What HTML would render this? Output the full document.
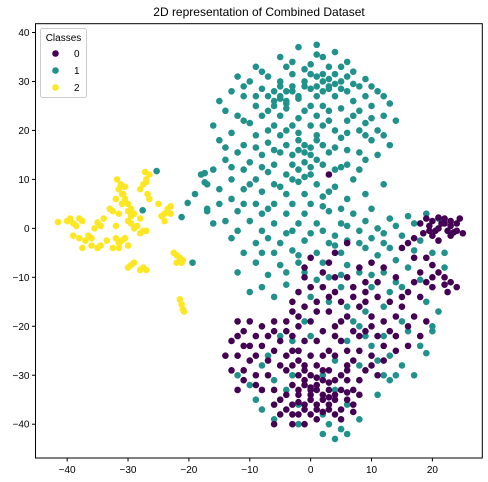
<!DOCTYPE html>
<html><head><meta charset="utf-8"><style>
html,body{margin:0;padding:0;background:#fff;}
svg{display:block;font-family:"Liberation Sans","DejaVu Sans",sans-serif;}
</style></head><body>
<svg id="chart" width="488" height="482">
<text x="259" y="16" text-anchor="middle" font-size="12" fill="#000">2D representation of Combined Dataset</text>
<g id="ticks"></g>
<g id="points"></g>
<rect x="35.5" y="23.7" width="446.8" height="434.3" fill="none" stroke="#000" stroke-width="1"/>
<g>
<rect x="40.5" y="28.5" width="46" height="69" rx="2" fill="#fff" fill-opacity="0.8" stroke="#ccc"/>
<text x="63.5" y="41" text-anchor="middle" font-size="10">Classes</text>
<circle cx="55.5" cy="53.5" r="3.3" fill="#440154"/>
<text x="74" y="57" font-size="10">0</text>
<circle cx="55.5" cy="70.5" r="3.3" fill="#21918c"/>
<text x="74" y="74" font-size="10">1</text>
<circle cx="55.5" cy="87.5" r="3.3" fill="#fde725"/>
<text x="74" y="91" font-size="10">2</text>
</g>
</svg>
<script>
const xTicks=[-40,-30,-20,-10,0,10,20];
const yTicks=[-40,-30,-20,-10,0,10,20,30,40];
const classColors=["#440154","#21918c","#fde725"];
const teal=[[-25.3,11.7],[-27.6,3.7],[-20.2,5.2],[-21.2,2.3],[-19.4,-7],[-17.4,11.3],[-17.4,9.4],[-17,3.5],
[-2,37],[1,37.5],[4,36],[-5,35],[2,35],[6,34],[-9,33],[-4,33],[0,33.5],[3,33],[7,32],[-12,31],[-7,31],[-3,31.5],[1,31],[4,31.5],[9,30.5],[-10,30],[-5,30],[-1,30],[2,30],[5,30],[8,29],[11,28],[-13,28],[-8,28.5],[-6,28],[-3,28],[0,28.5],[3,28.5],[6,28],[9,27],[-11,27],[-7,27],[-5,27],[-4,26],[-2,26.5],[1,27],[4,27],[7,26],[10,25],[13,25.5],[-15,26],[-9,25],[-6,25],[-4,24.5],[0,25],[2,25],[5,24.5],[8,24],[12,23],[-12,23],[-8,23],[-5,23],[-2,22.5],[1,23],[3,22],[6,22],[9,21.5],[14,22],[-16,21],[-10,21.5],[-6,21],[-3,21],[0,21],[4,20],[8,20],[11,20],[-13,19.5],[-9,19],[-5,19],[-2,19.5],[1,19],[5,18.5],[10,18],[13,17],[-15,18],[-11,17],[-7,17.5],[-4,17],[-1,17],[2,17],[6,16],[-12,15.5],[-8,15],[-5,15.5],[-3,15],[0,15],[3,15.5],[9,14],[-14,14],[-10,13.5],[-6,13],[-3,13],[-1,13.5],[2,13],[5,12.5],[-16,12],[-11,12],[-7,11.5],[-4,11],[0,11],[7,10],[12,9],[-18,11],[-13,10],[-9,10],[-6,9],[-2,9.5],[1,9],[4,8.5],[-15,8],[-11,8],[-8,7.5],[-4,7],[-1,7],[2,6.5],[6,6],[-19,7],[-13,6],[-9,5],[-6,5],[-3,5],[0,5],[-17,4],[-12,3.5],[-8,3],[-4,3],[-1,3],[3,3.5],[7,3],[10,4],[-14,1.5],[-10,1.5],[-6,1],[-2,1],[1,1],[5,1],[9,1.5],[13,2],[16,2.5],[19,3],[-12,-0.5],[-8,-0.5],[-4,-1],[0,-1],[4,-1.5],[8,-0.5],[11,0],[14,0.5],[17,1],[21,2],[-13,-2],[-9,-3],[-5,-3],[-1,-2.5],[3,-3],[6,-2.5],[10,-2],[15,-1.5],[18,-2.5],[-11,-5],[-6,-5],[-3,-4.5],[1,-5],[5,-5],[9,-4],[13,-4],[17,-4.5],[20,-5],[-9,-7],[-5,-7.5],[-2,-7],[2,-7],[6,-7.5],[14,-6.5],[22,-5],[-12,-9],[-7,-9.5],[-1,-9],[3,-10],[8,-9],[12,-9],[16,-8],[22,-8],[-8,-12],[-4,-11.5],[5,-12],[10,-12],[15,-12],[-10,-13],[0,-14],[19,-15],[21,-17],[-1,-19],[8,-20],[12,-22],[16,-21],[6,-23],[10,-24],[13,-26],[18,-24],[20,-20],[4,-27],[8,-28],[15,-28],[12,-30],[-2,-25],[-5,-22],[-8,-28],[-10,-32],[-6,-31],[-3,-30],[2,-30],[4,-33],[-12,-30],[-4,-33],[-2,-36],[6,-36],[2,-38],[-6,-39],[-2,-40],[3,-40],[5,-41],[2,-42],[4,-43],[6,-42],[8,-39],[13,-31],[11,-34],[19,-25.5],[20,-21],[13,-13],[6,-16],[9,-17],[0,-22],
[-5,29],[-4,28],[-3,29],[-2,27],[2,28],[3,29],[4,29.5],[2,31.5],[3,30.5],[0,31.5],[-6,26],[-5,26.5],[-4,25.5],[1,29],[5,28.5],[-1,15.5],[-2,16],[0,16.5],[1,14],[-2,12],[0,12.5],[-1,10.5],[-3,10],[1,18],[-2,18],[6,13],[-4,20],
[-3,34],[1,35.5],[5,33],[-8,32],[-1,32.5],[6,31],[10,29],[-11,29],[-9,27],[-1,29],[7,29.5],[12,27],[-14,24],[-7,24],[-1,24],[3,24],[7,23],[10,22.5],[-11,22],[-7,20],[2,21],[6,19.5],[9,19],[12,19],[-14,16.5],[-9,16.5],[-6,16],[4,16.5],[8,15.5],[11,15],[-13,12.5],[-8,12.5],[4,12],[8,12],[-17,9],[-10,9],[-5,8.5],[3,7.5],[9,7],[-15,5],[-11,5],[-7,4],[2,4.5],[5,4],[-16,1],[-3,-0.5],[2,-0.5],[6,0.5],[12,-1],[-7,-2],[4,-3.5],[8,-3],[12,-3],[-8,-5],[-2,-5.5],[11,-5.5],[-4,-9],[1,-10.5],[5,-9.5],[10,-9.5],[18,-10.5],[14,-11],[-6,-14],[3,-15],[12,-16],[15,-19],[7,-19],[-3,-23],[-7,-26],[-9,-35],[-8,-37],[9,-22],[14,-30],[17,-30],[11,-27]];
const purple=[[18,1],[19,2],[20,1.5],[21,2.2],[22,1],[23,0.5],[24,-0.5],[25,-1],[24,1],[22.5,-0.5],[21,0],[19.5,-0.5],[18.5,-1],[20,-1.5],[23,-1.5],[24.5,2],[17,-2],[21,-2.5],[16,-3],[15,-4],[19,-6],[20,-7.5],[21,-9],[22,-10],[23,-11],[24,-12],[22.5,-13],[18,-9],[17,-6],
[6,-3],[4,-5],[3,-7],[0,-6],[-1,-8],[2,-9],[6,-10],[8,-8],[10,-7],[12,-8],[14,-10],[11,-11],[9,-13],[7,-14],[4,-13],[2,-12],[0,-12],[-2,-13],[5,-15],[8,-16],[11,-14],[13,-15],[15,-16],[16,-13],[18,-14],[20,-12],[3,-17],[1,-17],[-1,-16],[-3,-17],[6,-18],[10,-18],[12,-19],[14,-18],[17,-18],[19,-19],[4,-20],[7,-21],[2,-21],[-2,-20],[-4,-19],[9,-21],[11,-22],[14,-22],[16,-24],[18,-22],[5,-23],[3,-25],[8,-25],[10,-26],[12,-27],[14,-25],[7,-27],
[-12,-19],[-10,-19],[-8,-20],[-6,-19],[-4,-21],[-11,-21],[-9,-22],[-7,-22],[-5,-23],[-3,-22],[-13,-23],[-11,-24],[-8,-24],[-6,-25],[-3,-25],[-12,-26],[-10,-27],[-7,-27],[-5,-28],[-2,-27],[-13,-29],[-11,-29],[-9,-30],[-7,-30],[-4,-29],[-12,-33],[-9,-32],[-6,-33],
[-3,-28],[-1,-28],[1,-28],[3,-29],[5,-30],[-2,-30],[0,-30],[2,-31],[4,-31],[6,-31],[-3,-32],[-1,-32],[1,-32],[3,-33],[5,-33],[7,-33],[-2,-34],[0,-34],[2,-34],[4,-35],[6,-35],[8,-34],[-3,-36],[-1,-36],[1,-36],[3,-36],[5,-37],[7,-36],[-2,-38],[0,-38],[2,-37.5],[4,-38],[-4,-37],[-1,-40],[1,-39],[-3,-40],[0,-35],[1,-33],[-1,-31],[2,-29],[0,-32.5],[3,-34.5],[-2,-35.5],[1,-37],[-5,-38],[-5,-35],[-6,-40],
[3,11],[-2,-25],[0,-26],[1,-23],[-1,-23],[6,-28],[9,-29],[11,-30],[4,-26],
[-1,-29],[1,-30.5],[3,-31.5],[-2,-33],[0,-33],[2,-35],[4,-34],[6,-33.5],[-1,-37],[3,-37],[5,-39],[-4,-34],[-3,-38],[7,-37.5],[8,-31],[-10,-24],[-9,-26],[-12,-22],[-14,-26],[-8,-33],[-6,-36],[-11,-31],[-4,-26],[-6,-21],[-2,-18],[0,-19],[5,-19],[8,-22],[13,-21],[16,-20],[12,-24],[6,-25],[9,-11],[7,-12],[3,-14],[1,-15],[15,-14],[17,-11],[19,-11],[4,-10],[-1,-10],[-3,-15],[22,2],[23,1.5],[19.5,0.5],[20.5,-0.5],[21.5,1],[23.5,-0.8],[22,-11.5],[20,-10],[9,-15],[10,-20],[4,-22],[2,-26],[6,-29],[10,-28]];
const yellow=[[-41.5,1.3],[-40,1.5],[-39.5,2],[-39,1],[-38.5,0.5],[-38,2],[-37.5,1.5],[-39,-1.5],[-38,-2],[-37,-2.5],[-36.5,-1.5],[-36,-2],[-36,-3.5],[-35,-4],[-37.5,-4],[-35.5,0],[-35,1.2],[-34.5,0.5],[-34,2],[-33,4],[-32.5,3.5],[-33.5,-2.5],[-32,-2],[-31.5,-3],[-31,-2.5],[-30.5,-2],[-32.5,-4],[-31.5,-4],[-34.5,-3.5],[-30,-3.5],[-32,0.5],[-30,1.5],[-31,5],[-30.5,6],[-30,5],[-29.5,4],[-29,3],[-31,7],[-32,6],[-31.5,8],[-31.8,10],[-31.2,9],[-30.5,8.5],[-30.8,7],[-31.5,3],[-30,3.5],[-29.5,2.5],[-29.5,1],[-29,0],[-28,2],[-28.5,0.5],[-27.5,-0.5],[-28,-1],[-27,-0.5],[-28,8],[-27.5,9],[-27,10],[-26.5,11],[-27.2,11.5],[-26.8,7],[-26.5,6],[-27,9.5],[-25,5],[-24,3],[-23.5,4],[-23,4.5],[-24.5,2.5],[-24,1.5],[-23,3],[-22.5,-5],[-22,-5.5],[-21.5,-6],[-21,-6.5],[-22,-7],[-21.2,-7],[-29.5,-7.5],[-29,-7],[-30,-8],[-28,-8.5],[-27,-8.5],[-27.5,-8],[-21.5,-14.5],[-21.2,-15.5],[-21,-16.5],[-20.8,-17]];
const NS="http://www.w3.org/2000/svg";
const xMin=-45.2,xMax=28.2,yMin=-46.9,yMax=41.8;
const L=35.5,R=482.3,T=23.7,B=458;
function sx(v){return L+(v-xMin)/(xMax-xMin)*(R-L);}
function sy(v){return B-(v-yMin)/(yMax-yMin)*(B-T);}
const tg=document.getElementById('ticks');
xTicks.forEach(function(t){
  const ln=document.createElementNS(NS,'line');
  ln.setAttribute('x1',sx(t));ln.setAttribute('x2',sx(t));ln.setAttribute('y1',B);ln.setAttribute('y2',B+3.5);ln.setAttribute('stroke','#000');
  
  
  tg.appendChild(ln);
  const tx=document.createElementNS(NS,'text');
  tx.setAttribute('x',sx(t));tx.setAttribute('y',B+15);tx.setAttribute('text-anchor','middle');tx.setAttribute('font-size','10');
  tx.textContent=t<0?'\u2212'+(-t):String(t);
  
  
  tg.appendChild(tx);
});
yTicks.forEach(function(t){
  const ln=document.createElementNS(NS,'line');
  ln.setAttribute('x1',L-3.5);ln.setAttribute('x2',L);ln.setAttribute('y1',sy(t));ln.setAttribute('y2',sy(t));ln.setAttribute('stroke','#000');
  
  
  tg.appendChild(ln);
  const tx=document.createElementNS(NS,'text');
  tx.setAttribute('x',L-6);tx.setAttribute('y',sy(t)+3.5);tx.setAttribute('text-anchor','end');tx.setAttribute('font-size','10');
  tx.textContent=t<0?'\u2212'+(-t):String(t);
  
  
  tg.appendChild(tx);
});
const pg=document.getElementById('points');
function draw(arr,cls){
  arr.forEach(function(p){
    const c=document.createElementNS(NS,'circle');
    c.setAttribute('cx',sx(p[0]));c.setAttribute('cy',sy(p[1]));c.setAttribute('r',3.3);c.setAttribute('fill',classColors[cls]);
    
    
    pg.appendChild(c);
  });
}
draw(teal,1);draw(purple,0);draw(yellow,2);
</script>
</body></html>
